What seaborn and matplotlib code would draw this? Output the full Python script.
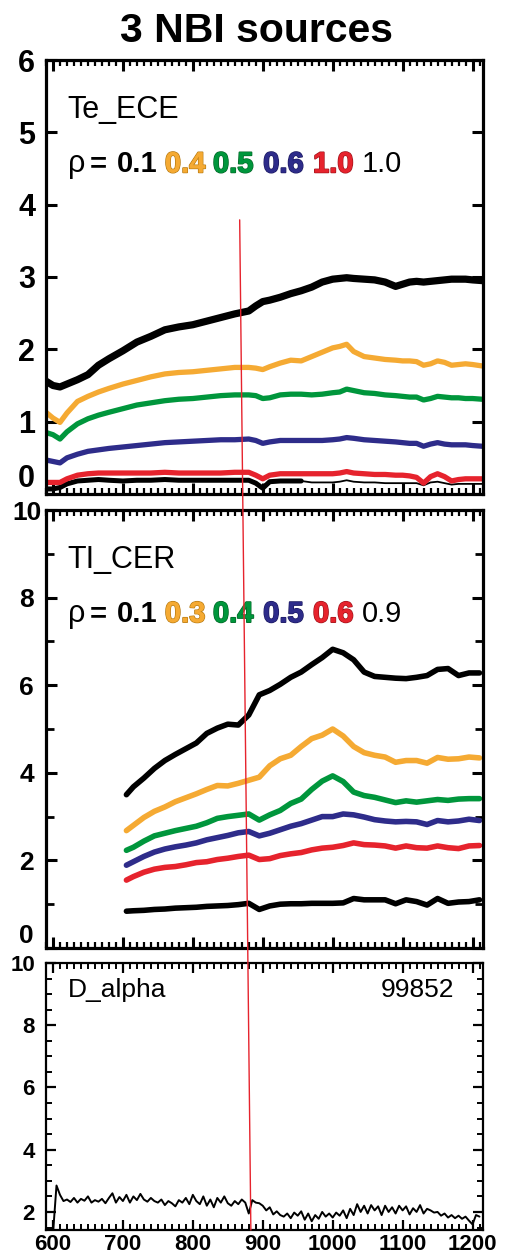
import numpy as np
import pandas as pd
import matplotlib
matplotlib.use("Agg")
import matplotlib.pyplot as plt
import seaborn as sns
from matplotlib.patches import ConnectionPatch
from matplotlib.ticker import MultipleLocator
import matplotlib.patheffects as pe

# ---------------- data ----------------
title = "3 NBI sources"

# Panel 1: Te_ECE
te_time = [590, 600, 610, 620, 635, 650, 665, 680, 700, 720, 740, 760, 780, 800, 820,
           840, 860, 880, 890, 900, 910, 925, 940, 955, 970, 985, 1000, 1010, 1020, 1030,
           1045, 1060, 1075, 1090, 1100, 1110, 1120, 1130, 1140, 1150, 1160, 1170, 1180,
           1190, 1200, 1214]
te_r01 = [1.56, 1.50, 1.48, 1.52, 1.58, 1.65, 1.78, 1.87, 1.98, 2.10, 2.18, 2.27, 2.31, 2.34, 2.39,
          2.44, 2.49, 2.53, 2.60, 2.66, 2.68, 2.72, 2.77, 2.81, 2.86, 2.93, 2.97, 2.98, 2.99, 2.98,
          2.97, 2.96, 2.93, 2.87, 2.90, 2.93, 2.94, 2.93, 2.94, 2.95, 2.96, 2.97, 2.97,
          2.97, 2.96, 2.95]
te_r04 = [1.13, 1.05, 0.99, 1.12, 1.28, 1.35, 1.41, 1.46, 1.52, 1.57, 1.62, 1.66, 1.68, 1.69, 1.71,
          1.73, 1.75, 1.75, 1.74, 1.72, 1.76, 1.81, 1.85, 1.84, 1.90, 1.96, 2.02, 2.04, 2.07, 1.97,
          1.90, 1.88, 1.86, 1.85, 1.84, 1.84, 1.83, 1.78, 1.80, 1.84, 1.82, 1.78, 1.79,
          1.80, 1.79, 1.77]
te_r05 = [0.85, 0.82, 0.76, 0.86, 0.97, 1.04, 1.09, 1.13, 1.18, 1.23, 1.26, 1.29, 1.31, 1.32, 1.34,
          1.36, 1.37, 1.37, 1.36, 1.32, 1.33, 1.37, 1.38, 1.38, 1.37, 1.38, 1.40, 1.41, 1.45, 1.43,
          1.40, 1.39, 1.37, 1.36, 1.35, 1.34, 1.34, 1.30, 1.32, 1.35, 1.34, 1.33, 1.33,
          1.32, 1.32, 1.31]
te_r06 = [0.47, 0.45, 0.43, 0.50, 0.55, 0.59, 0.61, 0.63, 0.65, 0.67, 0.69, 0.71, 0.72, 0.73, 0.74,
          0.75, 0.75, 0.76, 0.74, 0.70, 0.72, 0.74, 0.74, 0.74, 0.74, 0.74, 0.75, 0.76, 0.78, 0.77,
          0.75, 0.74, 0.73, 0.72, 0.71, 0.70, 0.70, 0.66, 0.69, 0.71, 0.69, 0.68, 0.68,
          0.68, 0.67, 0.66]
te_r10a = [0.16, 0.16, 0.16, 0.21, 0.26, 0.28, 0.29, 0.29, 0.29, 0.29, 0.29, 0.30, 0.29, 0.29, 0.29,
           0.29, 0.30, 0.30, 0.26, 0.21, 0.26, 0.28, 0.28, 0.28, 0.28, 0.28, 0.28, 0.29, 0.31, 0.29,
           0.28, 0.27, 0.27, 0.26, 0.26, 0.25, 0.23, 0.15, 0.24, 0.28, 0.24, 0.18, 0.20,
           0.21, 0.21, 0.21]
te_r10b = [0.07, 0.07, 0.09, 0.14, 0.18, 0.19, 0.20, 0.19, 0.18, 0.19, 0.19, 0.20, 0.19, 0.19, 0.19,
           0.19, 0.19, 0.19, 0.15, 0.08, 0.17, 0.18, 0.18, 0.18, 0.16, 0.16, 0.16, 0.17, 0.19, 0.17,
           0.16, 0.16, 0.15, 0.15, 0.15, 0.15, 0.15, 0.12, 0.16, 0.17, 0.15, 0.13, 0.14,
           0.14, 0.14, 0.14]
te_labels = ["0.1", "0.4", "0.5", "0.6", "1.0", "1.0"]

# Panel 2: TI_CER
ti_time = [705, 715, 730, 745, 760, 775, 790, 805, 820, 835, 850, 865, 880, 895, 910, 925,
           940, 955, 970, 985, 1000, 1015, 1030, 1045, 1060, 1075, 1090, 1105, 1120, 1135,
           1150, 1165, 1180, 1195, 1210]
ti_r01 = [3.50, 3.68, 3.88, 4.10, 4.28, 4.42, 4.55, 4.68, 4.90, 5.02, 5.11, 5.09, 5.32, 5.78, 5.88,
          6.02, 6.18, 6.30, 6.47, 6.63, 6.82, 6.74, 6.58, 6.30, 6.20, 6.18, 6.16, 6.15, 6.18,
          6.22, 6.36, 6.38, 6.22, 6.28, 6.28]
ti_r03 = [2.68, 2.80, 2.98, 3.12, 3.22, 3.34, 3.43, 3.52, 3.62, 3.71, 3.70, 3.76, 3.83, 3.90, 4.16,
          4.32, 4.40, 4.60, 4.78, 4.86, 5.00, 4.84, 4.60, 4.46, 4.40, 4.36, 4.24, 4.28, 4.28,
          4.22, 4.35, 4.31, 4.32, 4.36, 4.34]
ti_r04 = [2.23, 2.30, 2.44, 2.56, 2.62, 2.68, 2.73, 2.78, 2.86, 2.96, 3.00, 3.03, 3.06, 2.92, 3.04,
          3.14, 3.30, 3.40, 3.62, 3.81, 3.93, 3.80, 3.56, 3.48, 3.44, 3.38, 3.32, 3.36, 3.33,
          3.36, 3.39, 3.37, 3.40, 3.41, 3.41]
ti_r05 = [1.89, 1.97, 2.09, 2.19, 2.26, 2.31, 2.35, 2.40, 2.47, 2.52, 2.57, 2.63, 2.66, 2.56, 2.62,
          2.70, 2.78, 2.84, 2.92, 3.00, 3.00, 3.06, 3.04, 2.99, 2.93, 2.90, 2.88, 2.89, 2.88,
          2.82, 2.91, 2.88, 2.90, 2.94, 2.91]
ti_r06 = [1.55, 1.63, 1.73, 1.80, 1.84, 1.86, 1.90, 1.95, 1.97, 2.02, 2.05, 2.09, 2.12, 2.02, 2.04,
          2.11, 2.15, 2.18, 2.24, 2.28, 2.30, 2.34, 2.40, 2.36, 2.35, 2.33, 2.28, 2.33, 2.29,
          2.28, 2.33, 2.29, 2.27, 2.33, 2.34]
ti_r09 = [0.84, 0.85, 0.86, 0.88, 0.89, 0.91, 0.92, 0.93, 0.95, 0.96, 0.97, 0.99, 1.02, 0.88, 0.96,
          1.00, 1.01, 1.01, 1.02, 1.02, 1.02, 1.03, 1.13, 1.10, 1.10, 1.10, 1.01, 1.10, 1.06,
          0.98, 1.13, 1.02, 1.05, 1.06, 1.10]
ti_labels = ["0.1", "0.3", "0.4", "0.5", "0.6", "0.9"]

# Panel 3: D_alpha (shot 99852)
da_time = list(range(600, 1215, 5))
da_val = [1.30, 2.85, 2.55, 2.35, 2.40, 2.32, 2.45, 2.30, 2.42, 2.36,
          2.50, 2.30, 2.38, 2.33, 2.42, 2.28, 2.45, 2.60, 2.30, 2.48,
          2.35, 2.55, 2.30, 2.50, 2.38, 2.58, 2.40, 2.33, 2.45, 2.35,
          2.30, 2.40, 2.22, 2.35, 2.28, 2.18, 2.38, 2.30, 2.45, 2.25,
          2.55, 2.35, 2.25, 2.50, 2.20, 2.40, 2.15, 2.45, 2.30, 2.50,
          2.28, 2.20, 2.35, 2.25, 2.40, 2.30, 1.95, 2.38, 2.30, 2.28,
          2.20, 2.05, 2.15, 1.92, 2.02, 1.90, 1.85, 1.95, 1.80, 1.98,
          1.88, 2.02, 1.75, 1.95, 1.70, 1.90, 1.78, 2.00, 1.85, 1.95,
          1.82, 1.98, 1.88, 2.05, 1.80, 2.10, 1.90, 2.25, 2.00, 2.20,
          1.95, 2.22, 2.05, 2.18, 1.90, 2.20, 2.00, 2.15, 1.95, 2.20,
          2.05, 2.18, 1.92, 2.12, 2.00, 2.22, 1.95, 2.10, 2.05, 1.98,
          2.00, 1.88, 1.95, 1.82, 1.90, 1.80, 1.88, 1.78, 1.85, 1.72,
          1.60, 1.90, 1.85]
shot = "99852"

# time marker (red line) endpoints: [time at top, time at bottom]
marker_time = [867, 883]
marker_val = [3.79, 1.42]

x_ticks = [600, 700, 800, 900, 1000, 1100, 1200]

# ---------------- style ----------------
sns.set_theme(style="ticks")
SANS = ["Liberation Sans", "DejaVu Sans"]
plt.rcParams["font.family"] = SANS
for k in ("text.color", "axes.labelcolor", "xtick.color", "ytick.color", "axes.edgecolor"):
    plt.rcParams[k] = "black"

C_BLACK = "#000000"
C_ORANGE = "#F5AA33"
C_GREEN = "#00963C"
C_BLUE = "#2E2C8A"
C_RED = "#E6232D"
series_colors = [C_BLACK, C_ORANGE, C_GREEN, C_BLUE, C_RED, C_BLACK]
edge_colors = [None, "#B87A10", "#006626", "#1A1860", "#A01018", None]

W, H = 506, 1259
fig = plt.figure(figsize=(W / 100, H / 100), dpi=100)

def ax_rect(top_px, bot_px, left_px=46, right_px=483):
    return [left_px / W, 1 - bot_px / H, (right_px - left_px) / W, (bot_px - top_px) / H]

ax1 = fig.add_axes(ax_rect(60, 494))
ax2 = fig.add_axes(ax_rect(510, 948))
ax3 = fig.add_axes(ax_rect(963, 1230))

te = pd.DataFrame({"t": te_time, "r01": te_r01, "r04": te_r04, "r05": te_r05,
                   "r06": te_r06, "r10a": te_r10a, "r10b": te_r10b})
ti = pd.DataFrame({"t": ti_time, "r01": ti_r01, "r03": ti_r03, "r04": ti_r04,
                   "r05": ti_r05, "r06": ti_r06, "r09": ti_r09})
da = pd.DataFrame({"t": da_time, "v": da_val})

# Panel 1 lines
thick = te[te["t"] <= 955]
thin = te[te["t"] >= 955]
sns.lineplot(data=thick, x="t", y="r10b", ax=ax1, color=C_BLACK, lw=3.6, estimator=None, sort=False)
sns.lineplot(data=thin, x="t", y="r10b", ax=ax1, color=C_BLACK, lw=1.3, estimator=None, sort=False)
sns.lineplot(data=te, x="t", y="r10a", ax=ax1, color=C_RED, lw=3.8, estimator=None, sort=False)
sns.lineplot(data=te, x="t", y="r06", ax=ax1, color=C_BLUE, lw=3.8, estimator=None, sort=False)
sns.lineplot(data=te, x="t", y="r05", ax=ax1, color=C_GREEN, lw=3.8, estimator=None, sort=False)
sns.lineplot(data=te, x="t", y="r04", ax=ax1, color=C_ORANGE, lw=3.8, estimator=None, sort=False)
sns.lineplot(data=te, x="t", y="r01", ax=ax1, color=C_BLACK, lw=5.2, estimator=None, sort=False)

# Panel 2 lines
for col, c in zip(["r09", "r06", "r05", "r04", "r03", "r01"],
                  [C_BLACK, C_RED, C_BLUE, C_GREEN, C_ORANGE, C_BLACK]):
    sns.lineplot(data=ti, x="t", y=col, ax=ax2, color=c, lw=4.0, estimator=None, sort=False)

# Panel 3 line
sns.lineplot(data=da, x="t", y="v", ax=ax3, color=C_BLACK, lw=1.4, estimator=None, sort=False)

for ax in (ax1, ax2, ax3):
    ax.set_xlim(590, 1215)
    ax.set_xlabel("")
    ax.set_ylabel("")
    ax.xaxis.set_major_locator(MultipleLocator(100))
    ax.xaxis.set_minor_locator(MultipleLocator(10))
    ax.tick_params(which="both", direction="in", top=True, right=True, colors="black")

ax1.set_ylim(0, 6)
ax2.set_ylim(0, 10)
ax3.set_ylim(1.42, 10)

# spines
for ax, lw in ((ax1, 2.3), (ax2, 2.3), (ax3, 1.6)):
    for s in ax.spines.values():
        s.set_linewidth(lw)
        s.set_color("black")
        s.set_visible(True)

# ticks panel 1
ax1.set_yticks([0, 1, 2, 3, 4, 5, 6])
ax1.set_yticklabels(["0", "1", "2", "3", "4", "5", "6"], fontsize=22, fontweight="bold",
                    family=SANS, ha="center")
ax1.tick_params(axis="y", which="major", length=8, width=2.2, pad=14)
ax1.tick_params(axis="x", which="major", length=8, width=2.2, labelbottom=False)
ax1.tick_params(axis="x", which="minor", length=4, width=1.6)
ax1.get_yticklabels()[0].set_va("bottom")

# ticks panel 2
ax2.set_yticks([0, 2, 4, 6, 8, 10])
ax2.set_yticklabels(["0", "2", "4", "6", "8", "10"], fontsize=19, fontweight="bold",
                    family=SANS, ha="center")
ax2.yaxis.set_minor_locator(MultipleLocator(1))
ax2.tick_params(axis="y", which="major", length=8, width=2.2, pad=14)
ax2.tick_params(axis="y", which="minor", length=6, width=2.0)
ax2.tick_params(axis="x", which="major", length=8, width=2.2, labelbottom=False)
ax2.tick_params(axis="x", which="minor", length=4, width=1.6)
ax2.get_yticklabels()[0].set_va("bottom")

# ticks panel 3
ax3.set_yticks([2, 4, 6, 8, 10])
ax3.set_yticklabels(["2", "4", "6", "8", "10"], fontsize=16, fontweight="bold", family=SANS)
ax3.yaxis.set_minor_locator(MultipleLocator(0.5))
ax3.tick_params(axis="y", which="major", length=7, width=1.6, pad=8)
ax3.tick_params(axis="y", which="minor", length=4, width=1.4)
ax3.set_xticks(x_ticks)
ax3.set_xticklabels([str(v) for v in x_ticks], fontsize=16, fontweight="bold", family=SANS)
ax3.tick_params(axis="x", which="major", length=7, width=1.6, pad=3)
ax3.tick_params(axis="x", which="minor", length=4, width=1.4)
ax3.xaxis.set_minor_locator(MultipleLocator(10))

# ---------------- texts ----------------
fig.text(0.506, 1 - 42 / H, title, ha="center", va="baseline", fontsize=29.5,
         fontweight="bold", family=SANS, color="black")

num_x = [0.162, 0.272, 0.382, 0.497, 0.611, 0.723]
RHO_FS = 21

def rho_line(ax, y, labels):
    ax.text(0.050, y, "ρ", transform=ax.transAxes, fontsize=RHO_FS + 1, family=SANS,
            va="baseline", ha="left")
    ax.text(0.100, y, "=", transform=ax.transAxes, fontsize=RHO_FS, family=SANS,
            fontweight="bold", va="baseline", ha="left")
    for i, (lab, x) in enumerate(zip(labels, num_x)):
        weight = "normal" if i == len(labels) - 1 else "bold"
        t = ax.text(x, y, lab, transform=ax.transAxes, fontsize=RHO_FS, family=SANS,
                    fontweight=weight, color=series_colors[i], va="baseline", ha="left")
        if edge_colors[i] is not None:
            t.set_path_effects([pe.withStroke(linewidth=1.2, foreground=edge_colors[i]),
                                pe.Normal()])

ax1.text(0.048, 0.866, "Te_ECE", transform=ax1.transAxes, fontsize=22, family=SANS,
         va="baseline", ha="left")
rho_line(ax1, 0.741, te_labels)

ax2.text(0.048, 0.868, "TI_CER", transform=ax2.transAxes, fontsize=22, family=SANS,
         va="baseline", ha="left")
rho_line(ax2, 0.744, ti_labels)

ax3.text(0.050, 0.873, "D_alpha", transform=ax3.transAxes, fontsize=19, family=SANS,
         va="baseline", ha="left")
ax3.text(0.934, 0.873, shot, transform=ax3.transAxes, fontsize=19, family=SANS,
         va="baseline", ha="right")

# red time marker spanning panels
con = ConnectionPatch(xyA=(marker_time[0], marker_val[0]), coordsA=ax1.transData,
                      xyB=(marker_time[1], marker_val[1]), coordsB=ax3.transData,
                      color=C_RED, lw=1.0, zorder=10)
fig.add_artist(con)

fig.savefig("out.png", dpi=100)
